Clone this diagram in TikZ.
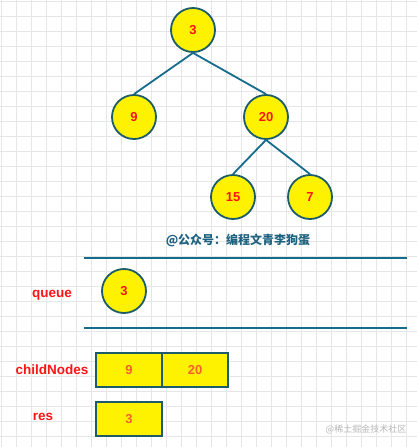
\documentclass[tikz,border=0pt]{standalone}
\usepackage{fontspec}
\setmainfont{Liberation Sans}
\newfontfamily\cjk{Noto Sans CJK SC}
\definecolor{gridc}{RGB}{230,230,230}
\definecolor{edgec}{RGB}{22,108,140}
\definecolor{borderc}{RGB}{28,92,104}
\definecolor{numc}{RGB}{255,20,20}
\definecolor{boxnum}{RGB}{250,96,50}
\definecolor{wmc}{RGB}{30,98,128}
\begin{document}
\begin{tikzpicture}[x=1pt,y=-1pt,
  treenode/.style={circle, draw=borderc, line width=1.8pt, fill=yellow, minimum size=44pt, inner sep=0pt, text=numc, font=\fontsize{13}{15}\selectfont\bfseries},
  edge/.style={draw=edgec, line width=1.8pt},
  cell/.style={rectangle, draw=borderc, line width=1.8pt, fill=yellow, minimum width=66pt, minimum height=34pt, inner sep=0pt, text=boxnum, font=\fontsize{13}{15}\selectfont\bfseries},
  lbl/.style={text=numc, font=\fontsize{13.5}{15}\selectfont\bfseries, inner sep=0pt}
]
\useasboundingbox (0,0) rectangle (417,447);
\fill[white] (0,0) rectangle (417,447);
\foreach \i in {0,...,27} {
  \draw[gridc, line width=0.8pt] ({1+15*\i},0) -- ({1+15*\i},447);
}
\foreach \j in {0,...,29} {
  \draw[gridc, line width=0.8pt] (0,{1+15*\j}) -- (417,{1+15*\j});
}
% tree
\node[treenode] (n3) at (193,30) {3};
\node[treenode] (n9) at (134,117) {9};
\node[treenode] (n20) at (266,117) {20};
\node[treenode] (n15) at (233,197) {15};
\node[treenode] (n7) at (310,197) {7};
\draw[edge] (n3.south) -- (n9.north);
\draw[edge] (n3.south) -- (n20.north);
\draw[edge] (n20.south) -- (n15.north);
\draw[edge] (n20.south) -- (n7.north);
% watermark
\node[text=wmc, font=\cjk\fontsize{12}{14}\selectfont\bfseries] (wm) at (238,240) {@公众号：编程文青李狗蛋};
% queue
\coordinate (qa1) at (84,258);
\coordinate (qb1) at (407,258);
\coordinate (qa2) at (84,328);
\coordinate (qb2) at (407,328);
\draw[edge] (qa1) -- (qb1);
\draw[edge] (qa2) -- (qb2);
\node[lbl] (lq) at (52,295) {queue};
\node[treenode] (q3) at (124,291) {3};
% childNodes
\node[lbl] (lc) at (52,370) {childNodes};
\node[cell] (c9) at (129,370) {9};
\node[cell] (c20) at (195,370) {20};
% res
\node[lbl] (lr) at (43,417) {res};
\node[cell] (r3) at (129,419) {3};
% bottom watermark
\node[text=black!28, font=\cjk\fontsize{9}{11}\selectfont] (jj) at (366,429) {@稀土掘金技术社区};
\end{tikzpicture}
\end{document}
